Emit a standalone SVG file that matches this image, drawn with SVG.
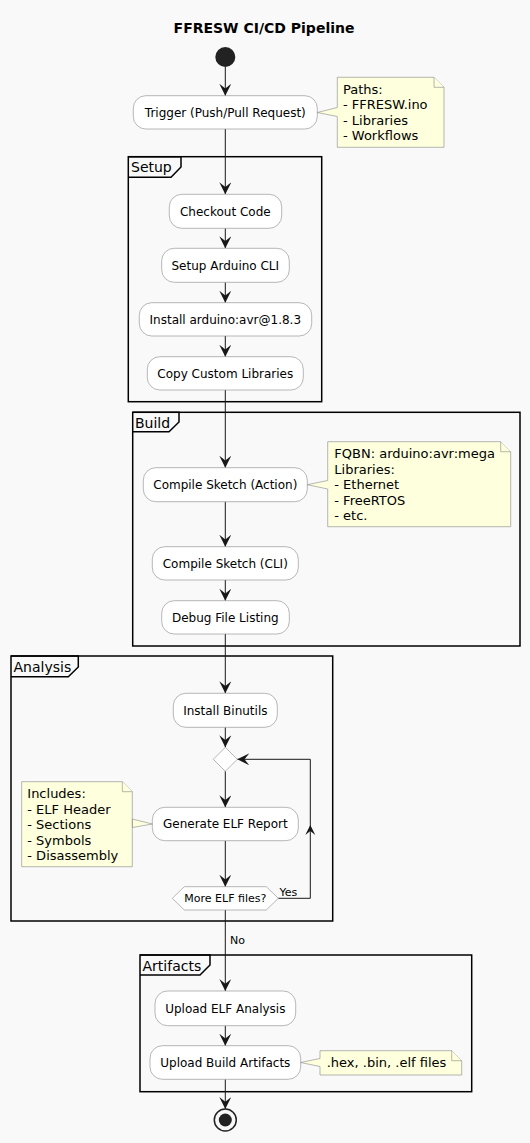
<svg xmlns="http://www.w3.org/2000/svg" width="530" height="1143" viewBox="0 0 530 1143">
<defs>
<style>
.bg{fill:#F9F9F9}
.box{fill:#FFFFFF;stroke:#888888;stroke-width:0.6}
.note{fill:#FEFFDD;stroke:#888888;stroke-width:0.6}
.frame{fill:none;stroke:#000000;stroke-width:1.5}
.tab{fill:#FFFFFF;stroke:#000000;stroke-width:1.5}
.t{font-family:"DejaVu Sans",sans-serif;font-size:12px;fill:#000000;text-anchor:middle}
.n{font-family:"DejaVu Sans",sans-serif;font-size:13px;fill:#000000}
.f{font-family:"DejaVu Sans",sans-serif;font-size:14px;fill:#000000}
.s{font-family:"DejaVu Sans",sans-serif;font-size:11px;fill:#000000}
.title{font-family:"DejaVu Sans",sans-serif;font-size:14px;font-weight:bold;fill:#000000;text-anchor:middle}
.ln{fill:none;stroke:#181818;stroke-width:1}
</style>
<marker id="ah" markerUnits="userSpaceOnUse" markerWidth="12" markerHeight="12" refX="10" refY="5" orient="auto" viewBox="0 0 10 10">
<path d="M0,0 L10,5 L0,10 L4,5 Z" fill="#181818"/>
</marker>
</defs>
<rect class="bg" x="0" y="0" width="530" height="1143"/>
<text class="title" x="264" y="33">FFRESW CI/CD Pipeline</text>

<g id="frame-setup">
<rect class="frame" x="128.3" y="156.7" width="193.4" height="245"/>
<path class="frame" d="M128.3,156.7 H181 V167 L171,177.3 H128.3"/>
<text class="f" x="131" y="172">Setup</text>
</g>
<g id="frame-build">
<rect class="frame" x="132.7" y="412.3" width="387.3" height="233.7"/>
<path class="frame" d="M132.7,412.3 H179 V422 L169,431.7 H132.7"/>
<text class="f" x="135" y="427.5">Build</text>
</g>
<g id="frame-analysis">
<rect class="frame" x="11" y="656" width="321.7" height="265"/>
<path class="frame" d="M11,656 H78.3 V667 L68.3,676.7 H11"/>
<text class="f" x="13.5" y="671.5">Analysis</text>
</g>
<g id="frame-artifacts">
<rect class="frame" x="140" y="955" width="331.7" height="136.7"/>
<path class="frame" d="M140,955 H210 V965 L200,975 H140"/>
<text class="f" x="142.5" y="970.5">Artifacts</text>
</g>

<g id="connectors">
<line class="ln" x1="225.3" y1="67" x2="225.3" y2="95.7" marker-end="url(#ah)"/>
<line class="ln" x1="225.3" y1="129" x2="225.3" y2="194.3" marker-end="url(#ah)"/>
<line class="ln" x1="225.3" y1="228.3" x2="225.3" y2="248.3" marker-end="url(#ah)"/>
<line class="ln" x1="225.3" y1="282.3" x2="225.3" y2="302.7" marker-end="url(#ah)"/>
<line class="ln" x1="225.3" y1="336" x2="225.3" y2="356.7" marker-end="url(#ah)"/>
<line class="ln" x1="225.3" y1="390" x2="225.3" y2="467.7" marker-end="url(#ah)"/>
<line class="ln" x1="225.3" y1="501.7" x2="225.3" y2="546.7" marker-end="url(#ah)"/>
<line class="ln" x1="225.3" y1="580" x2="225.3" y2="600.7" marker-end="url(#ah)"/>
<line class="ln" x1="225.3" y1="634" x2="225.3" y2="693.3" marker-end="url(#ah)"/>
<line class="ln" x1="225.3" y1="727.3" x2="225.3" y2="747.3" marker-end="url(#ah)"/>
<line class="ln" x1="225.3" y1="771.3" x2="225.3" y2="807.3" marker-end="url(#ah)"/>
<line class="ln" x1="225.3" y1="840.7" x2="225.3" y2="886.7" marker-end="url(#ah)"/>
<path class="ln" d="M278.3,898.3 H310.3 V759.3 H237.3" marker-end="url(#ah)"/>
<polygon points="310.3,825 305.3,835 310.3,831 315.3,835" fill="#181818"/>
<text class="s" x="279.5" y="896">Yes</text>
<line class="ln" x1="225.3" y1="910" x2="225.3" y2="991" marker-end="url(#ah)"/>
<text class="s" x="230" y="944">No</text>
<line class="ln" x1="225.3" y1="1025.7" x2="225.3" y2="1045.7" marker-end="url(#ah)"/>
<line class="ln" x1="225.3" y1="1079.3" x2="225.3" y2="1109" marker-end="url(#ah)"/>
</g>

<g id="start"><circle cx="225.3" cy="57" r="10" fill="#222222"/></g>

<g id="trigger">
<rect class="box" x="133.3" y="95.7" width="184" height="33.3" rx="12.5"/>
<text class="t" x="225.3" y="116.8">Trigger (Push/Pull Request)</text>
</g>
<g id="note-trigger">
<path class="note" d="M337.3,77.3 H434 L444,87.3 V147.3 H337.3 V116.5 L317.3,112.5 L337.3,107.5 Z"/>
<path class="note" d="M434,77.3 V87.3 H444" fill="none"/>
<text class="n" x="343" y="93.5">Paths:</text>
<text class="n" x="343" y="109">- FFRESW.ino</text>
<text class="n" x="343" y="124.5">- Libraries</text>
<text class="n" x="343" y="140">- Workflows</text>
</g>

<g id="checkout">
<rect class="box" x="169.3" y="194.3" width="112.4" height="34" rx="12.5"/>
<text class="t" x="225.3" y="215.5">Checkout Code</text>
</g>
<g id="setup-cli">
<rect class="box" x="161.7" y="248.3" width="127.6" height="34" rx="12.5"/>
<text class="t" x="225.3" y="269.5">Setup Arduino CLI</text>
</g>
<g id="install-avr">
<rect class="box" x="139.3" y="302.7" width="172.4" height="33.3" rx="12.5"/>
<text class="t" x="225.3" y="323.5">Install arduino:avr@1.8.3</text>
</g>
<g id="copy-libs">
<rect class="box" x="147.3" y="356.7" width="156" height="33.3" rx="12.5"/>
<text class="t" x="225.3" y="377.5">Copy Custom Libraries</text>
</g>

<g id="compile-action">
<rect class="box" x="143.3" y="467.7" width="164" height="34" rx="12.5"/>
<text class="t" x="225.3" y="489">Compile Sketch (Action)</text>
</g>
<g id="note-build">
<path class="note" d="M327.7,441.7 H500.7 L510.7,451.7 V526.7 H327.7 V489 L307.3,484.7 L327.7,480.5 Z"/>
<path class="note" d="M500.7,441.7 V451.7 H510.7" fill="none"/>
<text class="n" x="334.3" y="458">FQBN: arduino:avr:mega</text>
<text class="n" x="334.3" y="473.5">Libraries:</text>
<text class="n" x="334.3" y="489">- Ethernet</text>
<text class="n" x="334.3" y="504.5">- FreeRTOS</text>
<text class="n" x="334.3" y="520">- etc.</text>
</g>
<g id="compile-cli">
<rect class="box" x="152.3" y="546.7" width="146" height="33.3" rx="12.5"/>
<text class="t" x="225.3" y="567.5">Compile Sketch (CLI)</text>
</g>
<g id="debug-listing">
<rect class="box" x="161.7" y="600.7" width="127.6" height="33.3" rx="12.5"/>
<text class="t" x="225.3" y="621.5">Debug File Listing</text>
</g>

<g id="install-binutils">
<rect class="box" x="173.3" y="693.3" width="104" height="34" rx="12.5"/>
<text class="t" x="225.3" y="714.5">Install Binutils</text>
</g>
<g id="merge">
<polygon class="box" points="225.3,747.3 237.3,759.3 225.3,771.3 213.3,759.3"/>
</g>
<g id="gen-elf">
<rect class="box" x="152.3" y="807.3" width="146" height="33.4" rx="12.5"/>
<text class="t" x="225.3" y="828.3">Generate ELF Report</text>
</g>
<g id="note-elf">
<path class="note" d="M21.7,781.7 H122.3 L132.3,791.7 V827.5 L152.3,824 L132.3,819 V866.7 H21.7 Z"/>
<path class="note" d="M122.3,781.7 V791.7 H132.3" fill="none"/>
<text class="n" x="27.3" y="798">Includes:</text>
<text class="n" x="27.3" y="813.5">- ELF Header</text>
<text class="n" x="27.3" y="829">- Sections</text>
<text class="n" x="27.3" y="844.5">- Symbols</text>
<text class="n" x="27.3" y="860">- Disassembly</text>
</g>
<g id="more-elf">
<polygon class="box" points="172.3,898.3 184.3,886.7 266.3,886.7 278.3,898.3 266.3,910 184.3,910"/>
<text class="s" x="225.3" y="902.3" text-anchor="middle">More ELF files?</text>
</g>

<g id="upload-elf">
<rect class="box" x="155" y="991" width="140.7" height="34.7" rx="12.5"/>
<text class="t" x="225.3" y="1012.5">Upload ELF Analysis</text>
</g>
<g id="upload-build">
<rect class="box" x="150" y="1045.7" width="150.7" height="33.6" rx="12.5"/>
<text class="t" x="225.3" y="1066.8">Upload Build Artifacts</text>
</g>
<g id="note-artifacts">
<path class="note" d="M320,1050.7 H451.7 L461.7,1060.7 V1075 H320 V1066.5 L300.7,1062.5 L320,1058.5 Z"/>
<path class="note" d="M451.7,1050.7 V1060.7 H461.7" fill="none"/>
<text class="n" x="326.7" y="1067">.hex, .bin, .elf files</text>
</g>

<g id="end">
<circle cx="225.3" cy="1120" r="11" fill="none" stroke="#222222" stroke-width="1.5"/>
<circle cx="225.3" cy="1120" r="6.5" fill="#222222"/>
</g>
</svg>
